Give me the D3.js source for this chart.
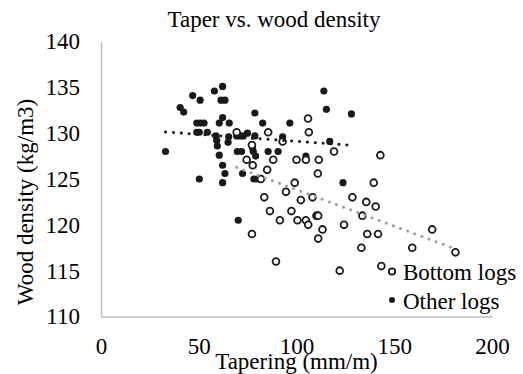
<!DOCTYPE html>
<html>
<head>
<meta charset="utf-8">
<script src="https://cdn.jsdelivr.net/npm/d3@7"></script>
<style>
  body { margin: 0; background: #fff; }
  text { font-family: "Times New Roman", "Liberation Serif", serif; fill: #000; }
</style>
</head>
<body>
<svg id="chart" width="523" height="374"></svg>
<script>
// chart values
const chartTitle = 'Taper vs. wood density';
const xTitle = 'Tapering (mm/m)';
const yTitle = 'Wood density (kg/m3)';
const xTicks = [0, 50, 100, 150, 200];
const yTicks = [110, 115, 120, 125, 130, 135, 140];
const seriesNames = ['Bottom logs', 'Other logs'];

// [tapering, density]
const otherLogs = [
  [33, 128], [40.5, 132.8], [42.3, 132.3], [46.9, 134.1], [50.7, 133.6], [58, 134.6],
  [62.2, 135.1], [61.4, 133.6], [63.4, 133.6], [49, 131.1], [50.7, 131.1], [52.7, 131.1],
  [49, 130.1], [50.3, 130.1], [54.4, 130.1], [60.5, 131.1], [62.2, 131.7], [65.6, 131.1],
  [58.8, 129.7], [59.2, 129.2], [59.5, 128.6], [60.5, 127.6], [62.2, 126.5], [63.4, 125.6],
  [62.2, 124.6], [50.3, 125], [65.3, 129.6], [65, 129], [69.4, 129.7], [71.1, 129.7],
  [72.8, 129.7], [74.9, 130], [69.7, 128], [71.9, 128], [72.4, 125.6], [70.2, 120.5],
  [78.7, 132.2], [78.7, 129.7], [77.5, 128.4], [77.9, 128], [79.1, 127.5], [78.2, 125],
  [79.9, 125], [82.7, 131.1], [85.5, 128], [90.6, 128], [92.9, 129.6], [96.6, 131.1],
  [104.8, 127.5], [114, 134.6], [115.3, 132.6], [117, 129.1], [123.8, 124.6], [128.1, 132.1]
];

const bottomLogs = [
  [69.4, 130.1], [77.2, 128.7], [74.5, 127.1], [77.6, 126.5], [81.8, 125], [85, 126],
  [85.5, 130.1], [88.1, 127.1], [92.9, 129.1], [100, 127.1], [104.8, 127.1], [105.9, 131.6],
  [106.3, 130.1], [111.4, 127.1], [110.9, 125.6], [119.2, 128], [99.1, 124.6], [94.6, 123.6],
  [83.5, 123], [102.2, 122.7], [108.2, 123], [86.4, 121.5], [97.4, 121.5], [91.5, 120.5],
  [100.5, 120.5], [104.8, 120.5], [106, 120], [110.2, 121], [111.1, 121], [113.3, 119.5],
  [111.1, 118.5], [77.2, 119], [89.5, 116], [122.1, 115], [124.3, 120], [128.6, 123],
  [133.7, 121], [133.2, 117.5], [135.7, 122.5], [136.2, 119], [139.5, 124.6], [140.5, 122],
  [141.7, 119], [142.9, 127.6], [143.4, 115.5], [159.2, 117.5], [169.4, 119.5], [181.3, 117]
];

const svg = d3.select('#chart');
const font = '"Times New Roman", "Liberation Serif", serif';

const x = d3.scaleLinear().domain([0, 200]).range([101, 492]);
const y = d3.scaleLinear().domain([110, 140]).range([316.5, 41.5]);

// axes
const xAxis = svg.append('g')
  .attr('transform', 'translate(0,' + y(110) + ')')
  .call(d3.axisBottom(x).tickValues(xTicks).tickSize(0).tickPadding(21));
const yAxis = svg.append('g')
  .attr('transform', 'translate(' + x(0) + ',0)')
  .call(d3.axisLeft(y).tickValues(yTicks).tickSize(0).tickPadding(21));

[xAxis, yAxis].forEach(a => {
  a.attr('font-size', 23).attr('font-family', font);
  a.select('.domain').attr('stroke', '#bfbfbf').attr('stroke-width', 1.5);
  a.selectAll('text').attr('fill', '#000');
});

// titles
svg.append('text')
  .attr('x', 274).attr('y', 27)
  .attr('text-anchor', 'middle')
  .style('font-size', '23px')
  .text(chartTitle);

svg.append('text')
  .attr('x', (x(0) + x(200)) / 2).attr('y', 369)
  .attr('text-anchor', 'middle')
  .style('font-size', '23px')
  .text(xTitle);

svg.append('text')
  .attr('transform', 'translate(33,202) rotate(-90)')
  .attr('text-anchor', 'middle')
  .style('font-size', '23px')
  .text(yTitle);

// markers
svg.append('g').selectAll('circle')
  .data(otherLogs)
  .enter().append('circle')
  .attr('cx', d => x(d[0]))
  .attr('cy', d => y(d[1]))
  .attr('r', 3.6)
  .attr('fill', '#1a1a1a');

svg.append('g').selectAll('circle')
  .data(bottomLogs)
  .enter().append('circle')
  .attr('cx', d => x(d[0]))
  .attr('cy', d => y(d[1]))
  .attr('r', 3.4)
  .attr('fill', '#fff')
  .attr('stroke', '#1a1a1a')
  .attr('stroke-width', 1.8);

// linear trend lines (least squares over each series)
function trend(points) {
  const mx = d3.mean(points, d => d[0]);
  const my = d3.mean(points, d => d[1]);
  const sxy = d3.sum(points, d => (d[0] - mx) * (d[1] - my));
  const sxx = d3.sum(points, d => (d[0] - mx) * (d[0] - mx));
  const b = sxy / sxx;
  const a = my - b * mx;
  const ext = d3.extent(points, d => d[0]);
  return ext.map(v => [v, a + b * v]);
}

const line = d3.line().x(d => x(d[0])).y(d => y(d[1]));

svg.append('path')
  .attr('d', line(trend(otherLogs)))
  .attr('fill', 'none')
  .attr('stroke', '#1a1a1a')
  .attr('stroke-width', 3)
  .attr('stroke-linecap', 'round')
  .attr('stroke-dasharray', '0.1 7.8');

svg.append('path')
  .attr('d', line(trend(bottomLogs)))
  .attr('fill', 'none')
  .attr('stroke', '#a0a0a0')
  .attr('stroke-width', 3)
  .attr('stroke-linecap', 'round')
  .attr('stroke-dasharray', '0.1 7.5');

// legend
const legend = svg.append('g');
legend.append('circle')
  .attr('cx', 392).attr('cy', 271.5).attr('r', 3.2)
  .attr('fill', '#fff').attr('stroke', '#1a1a1a').attr('stroke-width', 1.8);
legend.append('circle')
  .attr('cx', 392).attr('cy', 300).attr('r', 3)
  .attr('fill', '#1a1a1a');
legend.selectAll('text')
  .data(seriesNames)
  .enter().append('text')
  .attr('x', 403)
  .attr('y', (d, i) => 280 + i * 28.5)
  .style('font-size', '23px')
  .text(d => d);
</script>
</body>
</html>
